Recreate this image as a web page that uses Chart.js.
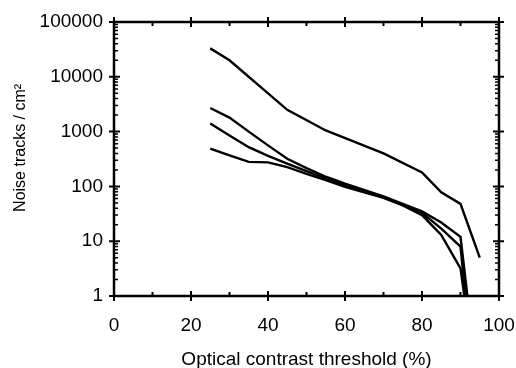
<!DOCTYPE html>
<html>
<head>
<meta charset="utf-8">
<script src="https://cdn.jsdelivr.net/npm/chart.js@4/dist/chart.umd.min.js"></script>
<style>
  html, body { margin: 0; padding: 0; background: #fff; }
  #wrap { width: 516px; height: 368px; }
</style>
</head>
<body>
<div id="wrap"><canvas id="chart" width="516" height="368"></canvas></div>
<script>
// Data (x = threshold %, y = noise tracks / cm2)
const xA = [25, 30, 45, 55, 70, 80, 85, 90, 95];
const yA = [33000, 20000, 2500, 1050, 400, 180, 78, 48, 5];

const xB = [25, 30, 35, 40, 45, 50, 55, 60, 70, 75, 80, 85, 90, 91.8];
const yB = [2700, 1800, 1000, 560, 320, 215, 150, 112, 66, 48, 35, 22, 12, 1];

const xC = [25, 30, 35, 40, 45, 50, 55, 60, 70, 75, 80, 85, 90, 91.3];
const yC = [1400, 850, 520, 360, 260, 190, 140, 105, 63, 46, 33, 17, 8, 1];

const xD = [25, 30, 35, 40, 45, 50, 55, 60, 70, 75, 80, 85, 90, 91];
const yD = [490, 370, 280, 275, 225, 170, 130, 98, 62, 45, 30, 13, 3.2, 1];

const xTicks = [0, 20, 40, 60, 80, 100];
const xMinorTicks = [10, 30, 50, 70, 90];
const yTicks = [1, 10, 100, 1000, 10000, 100000];

const FONT = "'Liberation Sans', Arial, sans-serif";

function toPoints(xs, ys) {
  return xs.map((x, i) => ({ x: x, y: ys[i] }));
}

function lineSet(xs, ys) {
  return {
    data: toPoints(xs, ys),
    borderColor: '#000',
    borderWidth: 2.4,
    pointRadius: 0,
    tension: 0,
    fill: false,
  };
}

// Box frame with crossing major ticks and inward minor ticks on all sides
const framePlugin = {
  id: 'frame',
  afterDatasetsDraw(chart) {
    const { ctx, chartArea: a, scales: { x, y } } = chart;
    ctx.save();
    ctx.strokeStyle = '#000';
    ctx.lineWidth = 2.5;
    ctx.strokeRect(a.left, a.top, a.right - a.left, a.bottom - a.top);

    ctx.lineWidth = 2;
    ctx.beginPath();
    xTicks.forEach(v => {
      const px = x.getPixelForValue(v);
      ctx.moveTo(px, a.bottom - 5); ctx.lineTo(px, a.bottom + 5);
      ctx.moveTo(px, a.top - 5); ctx.lineTo(px, a.top + 5);
    });
    xMinorTicks.forEach(v => {
      const px = x.getPixelForValue(v);
      ctx.moveTo(px, a.bottom); ctx.lineTo(px, a.bottom - 4);
      ctx.moveTo(px, a.top); ctx.lineTo(px, a.top + 4);
    });
    yTicks.forEach(v => {
      const py = y.getPixelForValue(v);
      ctx.moveTo(a.left - 5, py); ctx.lineTo(a.left + 6, py);
      ctx.moveTo(a.right - 6, py); ctx.lineTo(a.right + 5, py);
    });
    ctx.stroke();

    ctx.lineWidth = 1.5;
    ctx.beginPath();
    yTicks.slice(0, -1).forEach(d => {
      for (let k = 2; k <= 9; k++) {
        const py = y.getPixelForValue(d * k);
        ctx.moveTo(a.left, py); ctx.lineTo(a.left + 4, py);
        ctx.moveTo(a.right, py); ctx.lineTo(a.right - 4, py);
      }
    });
    ctx.stroke();
    ctx.restore();
  }
};

new Chart(document.getElementById('chart'), {
  type: 'line',
  data: {
    datasets: [lineSet(xA, yA), lineSet(xB, yB), lineSet(xC, yC), lineSet(xD, yD)],
  },
  options: {
    responsive: false,
    animation: false,
    devicePixelRatio: 1,
    layout: { padding: { top: 22, right: 17, left: 0, bottom: 0 } },
    plugins: {
      legend: { display: false },
      tooltip: { enabled: false },
    },
    scales: {
      x: {
        type: 'linear',
        min: 0,
        max: 100,
        afterBuildTicks: s => { s.ticks = xTicks.map(v => ({ value: v })); },
        afterFit: s => { s.height = 72; s.paddingLeft = 0; s.paddingRight = 0; },
        ticks: {
          color: '#000',
          font: { family: FONT, size: 19 },
          padding: 18,
          maxRotation: 0,
        },
        grid: { display: false, drawTicks: false },
        border: { display: false },
        title: {
          display: true,
          text: 'Optical contrast threshold (%)',
          color: '#000',
          font: { family: FONT, size: 19 },
          padding: { top: 0, bottom: -3 },
        },
      },
      y: {
        type: 'logarithmic',
        min: 1,
        max: 100000,
        afterBuildTicks: s => { s.ticks = yTicks.map(v => ({ value: v })); },
        afterFit: s => { s.width = 114; s.paddingTop = 0; s.paddingBottom = 0; },
        ticks: {
          color: '#000',
          font: { family: FONT, size: 19 },
          padding: 11,
          callback: v => String(v),
        },
        grid: { display: false, drawTicks: false },
        border: { display: false },
        title: {
          display: true,
          // leading spaces nudge the centred title up a little, as in the original
          text: '     Noise tracks / cm\u00B2',
          color: '#000',
          font: { family: FONT, size: 16 },
          padding: { top: 11, bottom: 0 },
        },
      },
    },
  },
  plugins: [framePlugin],
});
</script>
</body>
</html>
